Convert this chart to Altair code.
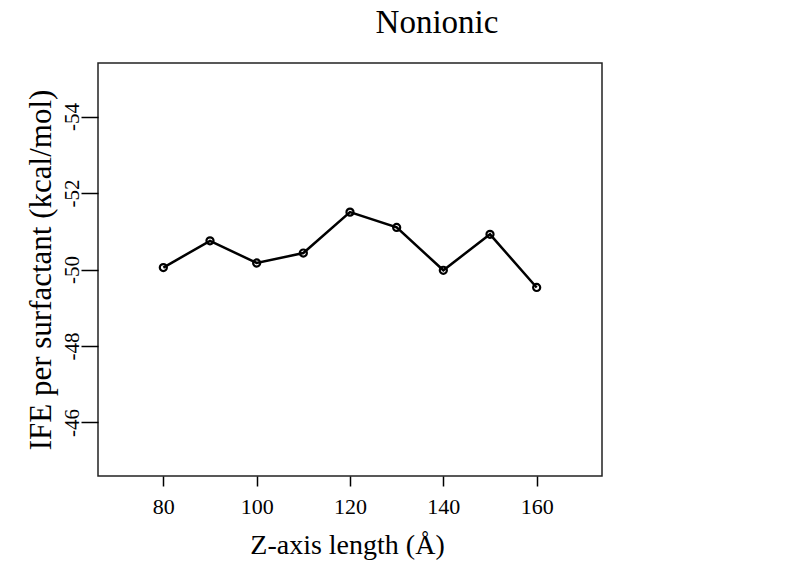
import altair as alt
import pandas as pd

title_text = "Nonionic"
z_length = [80, 90, 100, 110, 120, 130, 140, 150, 160]
ife = [-50.05, -50.75, -50.17, -50.43, -51.50, -51.10, -49.98, -50.92, -49.53]
x_ticks = [80, 100, 120, 140, 160]
y_ticks = [-54, -52, -50, -48, -46]

df = pd.DataFrame({"z": z_length, "ife": ife})

FONT = "Liberation Serif"

x_enc = alt.X(
    "z:Q",
    scale=alt.Scale(domain=[66, 174], nice=False, zero=False),
    axis=alt.Axis(
        values=x_ticks, title="Z-axis length (Å)", grid=False, domain=False,
        tickSize=10, tickColor="black", tickWidth=1.5,
        labelFont=FONT, labelFontSize=22, labelColor="black",
        labelPadding=27, labelBaseline="alphabetic", labelAlign="center",
        labelExpr="'' + datum.value",
        titleFont=FONT, titleFontSize=28, titleFontWeight="normal", titleColor="black",
        titleX=249, titleY=77, titleBaseline="alphabetic", titleAlign="center",
    ),
)
y_enc = alt.Y(
    "ife:Q",
    scale=alt.Scale(domain=[-55.4, -44.6], nice=False, zero=False, reverse=True),
    axis=alt.Axis(
        values=y_ticks, title="IFE per surfactant  (kcal/mol)", grid=False, domain=False,
        tickSize=17, tickColor="black", tickWidth=1.5,
        labelFont=FONT, labelFontSize=21, labelColor="black",
        labelAngle=270, labelAlign="center", labelBaseline="alphabetic", labelPadding=3,
        labelExpr="'' + datum.value",
        titleFont=FONT, titleFontSize=31, titleFontWeight="normal", titleColor="black",
        titleAngle=270, titleX=-48, titleY=206.5, titleBaseline="alphabetic", titleAlign="center",
    ),
)

base = alt.Chart(df)
line = base.mark_line(color="black", strokeWidth=2.5).encode(x=x_enc, y=y_enc)
pts = base.mark_point(filled=False, color="black", strokeWidth=2.2, size=50, opacity=1).encode(x="z:Q", y="ife:Q")
title_mark = alt.Chart(pd.DataFrame({"t": [title_text]})).mark_text(
    font=FONT, fontSize=33, color="black", align="center", baseline="alphabetic", clip=False
).encode(text="t:N", x=alt.value(339), y=alt.value(-30))

chart = (
    alt.layer(line, pts, title_mark)
    .properties(
        width=504,
        height=413,
        background="white",
        autosize=alt.AutoSizeParams(type="none"),
        padding={"left": 90, "top": 55, "right": 190, "bottom": 92},
    )
    .configure_view(stroke="#222", strokeWidth=1.5)
)

chart.save("out.html", embed_options={"renderer": "svg", "actions": False})
